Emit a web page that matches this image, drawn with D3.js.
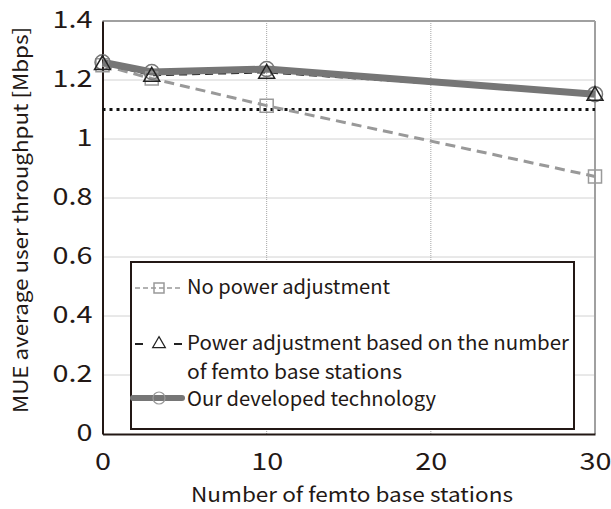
<!DOCTYPE html>
<html>
<head>
<meta charset="utf-8">
<script src="https://cdn.jsdelivr.net/npm/d3@7"></script>
<style>
  body { margin: 0; background: #fff; }
  svg { display: block; }
  text { font-family: "Noto Sans CJK JP", "Noto Sans", sans-serif; fill: #231815; }
</style>
</head>
<body>
<div id="chart"></div>
<script>
// 数据
const femtoCounts = [0, 3, 10, 30];
const noAdjust = [1.25, 1.205, 1.113, 0.873];
const countAdjust = [1.255, 1.215, 1.225, 1.15];
const ourTech = [1.26, 1.227, 1.237, 1.152];
const targetLine = 1.1;
const xTicks = [0, 10, 20, 30];
const yTicks = [0, 0.2, 0.4, 0.6, 0.8, 1, 1.2, 1.4];
const legendLabels = [
    ["No power adjustment"],
    ["Power adjustment based on the number", "of femto base stations"],
    ["Our developed technology"]
];

const W = 611, H = 509;
const margin = {top: 21, right: 16, bottom: 75, left: 102.5};
const width = W - margin.left - margin.right;
const height = H - margin.top - margin.bottom;

const svg = d3.select("#chart").append("svg")
    .attr("width", W)
    .attr("height", H);

const g = svg.append("g")
    .attr("transform", `translate(${margin.left},${margin.top})`);

const x = d3.scaleLinear().domain([0, 30]).range([0, width]);
const y = d3.scaleLinear().domain([0, 1.4]).range([height, 0]);

// 网格线
g.append("g")
    .selectAll("line.hgrid")
    .data(yTicks.filter(d => d > 0 && d < 1.4))
    .enter().append("line")
    .attr("x1", 0).attr("x2", width)
    .attr("y1", d => y(d)).attr("y2", d => y(d))
    .attr("stroke", "#a5a5a5").attr("stroke-width", 1)
    .attr("stroke-dasharray", "1,1");

g.append("g")
    .selectAll("line.vgrid")
    .data(xTicks.filter(d => d > 0 && d < 30))
    .enter().append("line")
    .attr("y1", 0).attr("y2", height)
    .attr("x1", d => x(d)).attr("x2", d => x(d))
    .attr("stroke", "#a5a5a5").attr("stroke-width", 1)
    .attr("stroke-dasharray", "1,1");

// 边框（上、右为灰色）
g.append("line").attr("x1", 0).attr("x2", width).attr("y1", 0).attr("y2", 0)
    .attr("stroke", "#a0a0a0").attr("stroke-width", 2);
g.append("line").attr("x1", width).attr("x2", width).attr("y1", 0).attr("y2", height)
    .attr("stroke", "#a0a0a0").attr("stroke-width", 2);

// 坐标轴 —— 参考图的数字字形偏宽，这里横向拉伸
const stretch = 1.2;
const xAxis = g.append("g")
    .attr("transform", `translate(0,${height})`)
    .call(d3.axisBottom(x).tickValues(xTicks).tickSize(0).tickFormat(d3.format("d")));
xAxis.select(".domain").attr("stroke", "#231815").attr("stroke-width", 2);
xAxis.selectAll("text").attr("font-size", 24).attr("font-family", null).attr("fill", null)
    .attr("dy", null).attr("y", null)
    .attr("transform", `translate(0,36) scale(${stretch},1)`);

const yAxis = g.append("g")
    .call(d3.axisLeft(y).tickValues(yTicks).tickSize(0).tickFormat(d => d3.format("")(+d.toFixed(1))));
yAxis.select(".domain").attr("stroke", "#231815").attr("stroke-width", 2);
yAxis.selectAll("text").attr("font-size", 24).attr("font-family", null).attr("fill", null)
    .attr("x", null).attr("dy", "0.28em")
    .attr("transform", `translate(-10,0) scale(${stretch},1)`);

// 目标线（黑色点线）
g.append("line")
    .attr("x1", x(0)).attr("x2", x(30))
    .attr("y1", y(targetLine)).attr("y2", y(targetLine))
    .attr("stroke", "#111").attr("stroke-width", 3)
    .attr("stroke-dasharray", "3,4");

const line = d3.line()
    .x((d, i) => x(femtoCounts[i]))
    .y(d => y(d));

// 无功率调整
g.append("path").datum(noAdjust)
    .attr("d", line).attr("fill", "none")
    .attr("stroke", "#999").attr("stroke-width", 3)
    .attr("stroke-dasharray", "10,6");

// 基于数量的功率调整
g.append("path").datum(countAdjust)
    .attr("d", line).attr("fill", "none")
    .attr("stroke", "#222").attr("stroke-width", 1.5)
    .attr("stroke-dasharray", "8,5");

// 我们的技术
g.append("path").datum(ourTech)
    .attr("d", line).attr("fill", "none")
    .attr("stroke", "#767676").attr("stroke-width", 7)
    .attr("stroke-linejoin", "round");

// 标记
const sq = d3.symbol().type(d3.symbolSquare).size(170);
const tri = d3.symbol().type(d3.symbolTriangle).size(110);

g.selectAll("path.sq").data(noAdjust).enter().append("path")
    .attr("d", sq)
    .attr("transform", (d, i) => `translate(${x(femtoCounts[i])},${y(d)})`)
    .attr("fill", "none").attr("stroke", "#9a9a9a").attr("stroke-width", 1.5);

g.selectAll("circle.ci").data(ourTech).enter().append("circle")
    .attr("cx", (d, i) => x(femtoCounts[i])).attr("cy", d => y(d))
    .attr("r", 7.5)
    .attr("fill", "none").attr("stroke", "#777").attr("stroke-width", 1.5);

g.selectAll("path.tri").data(countAdjust).enter().append("path")
    .attr("d", tri)
    .attr("transform", (d, i) => `translate(${x(femtoCounts[i])},${y(d) + 1})`)
    .attr("fill", "none").attr("stroke", "#222").attr("stroke-width", 1.5);

// 图例
const lg = svg.append("g").attr("transform", "translate(131,262)");
lg.append("rect").attr("width", 443).attr("height", 167)
    .attr("fill", "#fff").attr("stroke", "#231815").attr("stroke-width", 2);

const rowY = [26, 82, 136];
// 图例符号
lg.append("line").attr("x1", 4).attr("x2", 51).attr("y1", rowY[0]).attr("y2", rowY[0])
    .attr("stroke", "#999").attr("stroke-width", 1.5).attr("stroke-dasharray", "5,3");
lg.append("path").attr("d", d3.symbol().type(d3.symbolSquare).size(100))
    .attr("transform", `translate(28,${rowY[0]})`)
    .attr("fill", "none").attr("stroke", "#999").attr("stroke-width", 1.5);

lg.append("line").attr("x1", 4).attr("x2", 51).attr("y1", rowY[1]).attr("y2", rowY[1])
    .attr("stroke", "#222").attr("stroke-width", 2).attr("stroke-dasharray", "8,31");
lg.append("path").attr("d", d3.symbol().type(d3.symbolTriangle).size(70))
    .attr("transform", `translate(28,${rowY[1]})`)
    .attr("fill", "none").attr("stroke", "#222").attr("stroke-width", 1.2);

lg.append("line").attr("x1", 2).attr("x2", 51).attr("y1", rowY[2]).attr("y2", rowY[2])
    .attr("stroke", "#767676").attr("stroke-width", 6).attr("stroke-linecap", "round");
lg.append("circle").attr("cx", 28).attr("cy", rowY[2]).attr("r", 6)
    .attr("fill", "none").attr("stroke", "#999").attr("stroke-width", 1.2);

const textBase = [[32], [88, 117], [143.5]];
const textLen = [[203], [382], [215], [249]];
let k = 0;
legendLabels.forEach((lines, i) => {
    lines.forEach((t, j) => {
        lg.append("text").attr("x", 56).attr("y", textBase[i][j])
            .attr("font-size", 20)
            .attr("textLength", textLen[k++][0]).attr("lengthAdjust", "spacingAndGlyphs")
            .text(t);
    });
});

// 轴标题
svg.append("text")
    .attr("x", 352).attr("y", 501.7)
    .attr("text-anchor", "middle").attr("font-size", 20.5)
    .attr("textLength", 322).attr("lengthAdjust", "spacingAndGlyphs")
    .text("Number of femto base stations");

svg.append("text")
    .attr("transform", "translate(28,220) rotate(-90)")
    .attr("text-anchor", "middle").attr("font-size", 20.5)
    .attr("textLength", 386).attr("lengthAdjust", "spacingAndGlyphs")
    .text("MUE average user throughput [Mbps]");
</script>
</body>
</html>
